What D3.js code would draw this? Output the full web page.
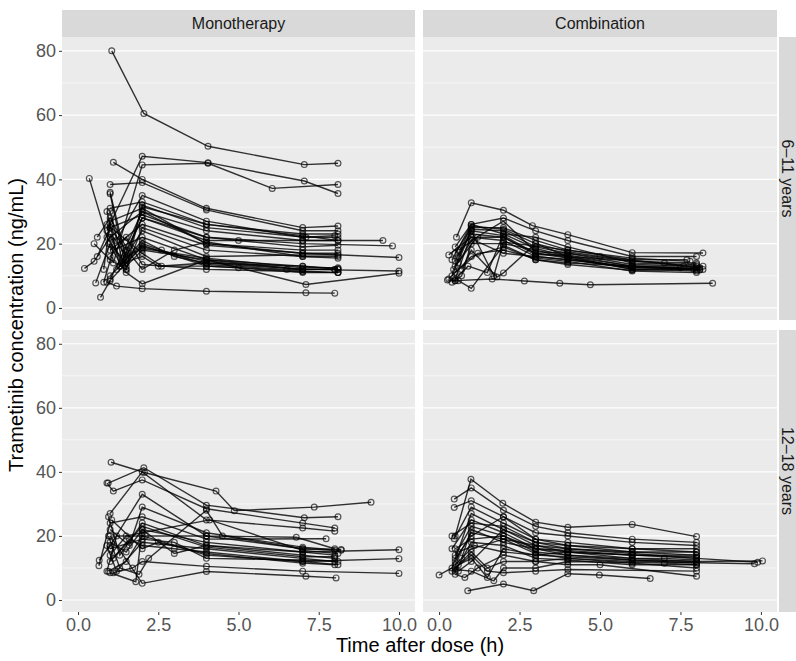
<!DOCTYPE html>
<html>
<head>
<meta charset="utf-8">
<script src="https://cdn.jsdelivr.net/npm/d3@7"></script>
<style>
	body { margin: 0; background: #fff; font-family: "Liberation Sans", Arial, sans-serif; }
	svg { display: block; }
</style>
</head>
<body>
<div id="chart"></div>
<script>
// facet labels and ticks
var colLabels = ["Monotherapy", "Combination"];
var rowLabels = ["6\u201311 years", "12\u201318 years"];
var yTicks = [0, 20, 40, 60, 80];
var yMinor = [10, 30, 50, 70];
var xTicks = [0, 2.5, 5, 7.5, 10];

// each subject is a list of [time (h), concentration (ng/mL)]
var monoChild = [
	[[1.05,80],[2.05,60.5],[4.05,50.3],[7.05,44.6],[8.1,45]],
	[[0.9,24],[2.0,47.2],[4.05,45.2],[7.05,39.5],[8.1,35.6]],
	[[1.1,14],[2.0,44.5],[4.05,45],[6.05,37.2],[8.1,38.4]],
	[[0.35,40.3],[0.9,22],[1.5,13],[2.0,18],[4.0,15],[7.0,12],[8.0,12]],
	[[1.1,45.3],[2.0,40],[4.0,31],[7.0,25],[8.1,25.5]],
	[[1.0,38.4],[2.0,39],[4.0,30.5],[7.0,24],[8.1,24]],
	[[1.0,36],[1.5,15],[2.0,31.5],[4.0,26],[7.0,23],[8.1,23]],
	[[1.0,35.5],[1.5,12],[2.0,32],[4.0,25],[7.1,22],[8.1,22]],
	[[0.2,12.3],[0.5,14.5],[1.0,22],[2.0,30],[4.0,24],[7.0,21],[9.5,21]],
	[[0.6,16],[1.0,25],[2.0,29],[4.0,22],[7.0,20],[9.8,19.3]],
	[[0.8,12],[1.0,27],[2.0,31],[4.0,20],[7.0,17],[10.0,15.7]],
	[[0.55,7.8],[1.0,20],[1.5,14],[2.0,19],[4.0,14.5],[7.0,12],[10.0,11.5]],
	[[0.8,8],[1.1,18],[2.0,22],[4.0,15],[7.1,7.3],[10.0,10.8]],
	[[0.7,3.3],[1.0,8.5],[2.0,19.5],[4.0,13],[7.0,11.5],[8.1,11]],
	[[0.9,8],[1.2,6.8],[2.0,6],[4.0,5.2],[7.1,4.7],[8.0,4.6]],
	[[0.95,20],[1.5,11],[2.0,7.5],[4.0,15],[7.0,13],[8.1,12.3]],
	[[1.0,30],[1.4,14],[2.0,16],[2.5,13],[4.0,14],[7.0,12],[8.0,12]],
	[[1.0,25],[1.5,18],[2.0,28],[4.0,22],[5.0,21],[7.0,19],[8.1,19.5]],
	[[1.0,18],[2.0,26],[4.0,19.5],[7.0,17],[8.1,17]],
	[[0.5,20],[1.0,15],[1.5,12],[2.0,25],[4.0,18],[7.0,16],[8.1,16]],
	[[1.0,10],[1.3,13],[2.0,21],[3.0,16],[4.0,14],[7.0,13],[8.1,12]],
	[[1.1,22],[1.5,16],[2.0,18.5],[4.0,15.5],[7.0,12.5],[8.1,12.5]],
	[[1.0,31],[2.0,33],[4.0,26],[7.0,22.5],[8.1,21]],
	[[0.9,26],[2.0,17],[2.6,13],[4.0,13],[5.0,12.5],[7.0,11],[8.1,11]],
	[[1.0,9],[1.4,17],[2.0,30],[4.0,20],[7.0,18],[8.1,18]],
	[[1.2,21],[2.0,35],[4.0,27],[7.0,22],[8.0,22.5]],
	[[0.6,22],[1.0,28],[1.6,17],[2.0,12],[3.0,18],[4.0,20.5],[7.0,16],[8.1,15.5]],
	[[1.0,16],[1.5,22],[2.0,13.5],[4.0,12],[7.0,11.3],[8.1,11]],
	[[0.9,30],[1.3,13],[2.0,28],[4.0,21],[7.0,21],[8.1,21]],
	[[1.0,23],[1.35,14],[2.0,24],[4.0,16],[7.0,16.5],[8.1,16.5]],
	[[1.2,12],[2.0,20],[2.6,18],[4.0,13.5],[6.5,12],[8.1,12]]
];

var comboChild = [
	[[0.54,22],[1.0,32.7],[2.0,30.4],[2.9,25.6],[4.0,22.8],[6.0,17.2],[8.2,17.1]],
	[[0.26,8.7],[0.5,8.5],[1.65,9],[2.65,8.4],[3.75,7.7],[4.7,7.2],[8.5,7.7]],
	[[0.4,15],[1.0,26],[2.0,28],[3.0,24],[4.0,21],[6.0,16],[8.0,16]],
	[[0.5,17],[1.0,25],[2.0,25],[3.0,21],[4.0,18],[6.0,15],[7.7,15]],
	[[0.45,12],[1.0,24.5],[2.0,24],[3.0,19],[4.0,17],[6.0,14.5],[8.0,14]],
	[[0.5,9],[1.0,23],[2.0,22],[3.0,17],[4.0,16],[6.0,13],[8.0,13]],
	[[0.3,16.5],[1.0,22],[2.0,21],[3.0,16],[4.0,15],[6.0,12.5],[8.1,12.5]],
	[[0.5,8.5],[0.7,10],[1.0,20],[2.0,20],[3.0,18],[4.0,15.5],[6.0,12],[8.0,11.5]],
	[[0.6,8.5],[1.0,6.1],[2.0,19.5],[3.0,15],[4.0,14],[6.0,13],[7.5,12.5]],
	[[0.7,12],[1.0,18],[1.8,9.6],[2.0,10.9],[3.0,20],[4.0,16],[6.0,12],[8.1,12]],
	[[0.5,19],[1.0,26],[2.0,23],[3.0,22],[4.0,19],[6.0,14],[8.0,13.5]],
	[[0.6,14],[1.0,21],[2.0,27],[3.0,17.5],[4.0,17],[6.0,13.5],[8.2,13]],
	[[0.5,11],[1.2,17],[2.0,18],[3.0,15.5],[4.0,14.5],[6.0,11.5],[8.0,11]],
	[[0.4,8],[0.9,13],[1.5,11],[2.0,23],[3.0,18.5],[4.0,16],[7.0,14],[8.0,12.5]],
	[[0.6,16],[1.0,24],[1.7,10],[2.0,20.5],[4.0,18],[6.0,15.5],[7.8,14.5]],
	[[0.5,13],[1.1,21],[2.0,17],[3.0,16],[4.0,15],[6.0,12.8],[8.1,11.8]],
	[[0.4,10],[1.0,24],[2.0,22.5],[3.0,17],[4.0,15.5],[6.0,12.5],[7.9,12.2]],
	[[0.5,14.5],[1.0,25.5],[2.0,24.5],[3.0,20],[4.0,17.5],[5.0,16],[7.6,13]],
	[[0.6,18],[1.2,22],[2.0,22],[3.0,16.5],[4.0,16.5],[6.0,13],[8.2,12]],
	[[0.3,9],[1.0,16],[2.0,19],[3.0,15],[4.0,13.5],[6.0,11.7],[8.0,12]]
];

var monoTeen = [
	[[1.03,43],[2.07,39.8],[4.3,34],[4.87,27.9],[7.36,29],[9.13,30.5]],
	[[0.94,36.5],[2.05,41.3],[4.0,29.6],[7.05,25.7],[8.1,26]],
	[[0.9,36.5],[1.1,34],[2.0,37.5],[4.0,28.5],[7.0,24],[8.0,22.5]],
	[[1.0,27],[2.0,40],[4.0,25],[7.0,22.5],[8.0,21.5]],
	[[0.66,12.4],[1.0,17],[2.0,33],[4.0,20],[6.8,19.6],[8.0,16]],
	[[0.65,10.7],[1.0,24],[2.0,26],[4.0,19],[7.73,19.1]],
	[[1.0,8.5],[1.8,5.7],[2.0,22],[4.0,18],[7.0,15],[10.0,15.7]],
	[[1.0,20],[2.0,5.2],[4.0,8.9],[7.1,7.4],[8.04,6.9]],
	[[0.95,9],[1.5,12],[2.0,20],[4.0,14],[7.0,12],[10.0,12.9]],
	[[1.1,8.5],[1.7,10],[2.0,12],[4.0,10.5],[7.0,9],[10.0,8.3]],
	[[1.0,18],[1.5,15],[2.0,22],[3.0,14.5],[4.0,17],[7.0,14],[8.0,13]],
	[[1.0,22],[1.6,17],[2.0,29],[4.0,21],[7.0,16.5],[8.2,15.5]],
	[[0.9,17],[1.2,9],[2.0,18],[4.0,16],[7.0,13],[8.0,12]],
	[[1.05,25],[2.0,16],[2.5,18],[4.0,14.5],[7.0,11.5],[8.0,11]],
	[[1.0,14],[1.5,20],[2.0,21],[4.1,25],[7.0,15.5],[8.1,14.5]],
	[[0.95,20],[1.3,10],[1.9,8],[2.2,13],[4.0,28],[4.5,20],[7.0,16],[8.0,15.5]],
	[[1.0,16],[2.0,19],[3.0,18],[4.0,13],[7.0,12.5],[8.1,12]],
	[[1.1,13],[2.0,23],[4.0,16.5],[7.0,13.5],[8.0,13.5]],
	[[0.95,26],[1.3,14],[2.0,24],[4.0,17],[7.0,15],[8.0,14]],
	[[1.0,12],[1.6,19],[2.0,17],[3.0,16],[4.0,15],[7.0,12],[8.1,11]],
	[[0.9,9],[1.2,20],[2.1,20],[4.0,20],[7.0,16],[8.2,15.8]]
];

var comboTeen = [
	[[0.5,20],[0.99,37.7],[1.98,30.2],[3.0,24.3],[4.0,22.7],[6.0,23.6],[8.0,19.8]],
	[[0.47,31.5],[1.0,35],[2.0,28],[3.0,23],[4.0,21],[6.0,19],[8.0,18]],
	[[0.47,28.9],[1.0,31],[2.0,26],[3.0,21],[4.0,20],[6.0,18],[8.0,17]],
	[[0.47,19.1],[1.0,29],[2.0,24],[3.0,19],[4.0,18],[6.0,16],[8.0,16]],
	[[0.0,7.8],[0.4,10],[1.0,27],[2.0,22],[3.0,17],[4.0,15],[6.0,14],[8.0,14]],
	[[0.4,16],[1.0,25],[2.0,21],[3.0,16],[4.0,15],[6.0,13],[8.0,12]],
	[[0.5,14],[1.0,23],[2.0,20],[3.0,15],[4.0,14],[6.0,12.5],[8.0,12],[10.05,12.2]],
	[[0.5,12],[1.0,21],[2.0,19],[3.0,14.5],[4.0,13],[6.0,12],[9.8,11.3]],
	[[0.89,2.9],[2.0,5],[2.94,2.9],[4.0,8.2],[4.98,7.8],[6.56,6.7]],
	[[0.5,9],[1.0,18],[2.0,17],[3.0,13],[4.0,12.5],[6.0,11],[8.0,11]],
	[[0.5,11],[1.0,16],[2.0,19],[3.0,17],[4.0,16],[6.0,14.5],[8.0,13]],
	[[0.5,8],[0.8,7],[1.2,10],[2.0,14],[3.0,12],[4.0,13],[6.0,11.5],[8.0,10]],
	[[0.5,10],[1.0,14],[1.5,9],[2.0,8.5],[3.0,9],[4.0,9.5],[8.0,9]],
	[[0.6,9],[1.0,12],[2.0,22],[3.0,18],[4.0,16],[6.0,15],[8.0,15]],
	[[0.5,13],[1.0,20],[2.0,26],[3.0,19],[4.0,17],[6.0,15],[8.0,14]],
	[[0.4,9],[1.0,15],[1.5,10],[2.0,12],[3.0,12],[4.0,11],[5.0,11],[8.0,7.4]],
	[[0.7,13],[1.0,22],[2.0,18],[3.0,16],[4.0,14],[6.0,13],[7.0,13],[8.0,12.5]],
	[[0.6,15],[1.1,17],[2.0,15],[3.0,14],[4.0,15],[6.0,14],[8.0,13.5]],
	[[0.5,16],[1.0,19],[2.0,20],[3.0,16],[4.0,15.5],[6.0,14],[8.0,13],[9.9,11.8]],
	[[0.6,11],[1.0,13],[1.5,7],[2.0,16],[3.0,14],[4.0,13.5],[6.0,12.5],[8.0,11.5]],
	[[0.4,20],[1.0,24],[2.0,23],[3.0,18],[4.0,17],[6.0,16],[8.0,15]],
	[[0.5,9.5],[1.0,9],[1.7,6],[2.0,10],[3.0,10],[4.0,12],[7.0,11.5],[8.0,11]]
];

var panels = [
	{row:0, col:0, subjects:monoChild},
	{row:0, col:1, subjects:comboChild},
	{row:1, col:0, subjects:monoTeen},
	{row:1, col:1, subjects:comboTeen}
];

var width = 796, height = 661;
var colX = [[62,415],[423,777]];
var rowY = [[37,320],[330,612]];

var svg = d3.select("#chart").append("svg")
	.attr("width", width)
	.attr("height", height);

var xScales = colX.map(function(r){ return d3.scaleLinear().domain([-0.5,10.5]).range(r); });
var yScales = rowY.map(function(r){ return d3.scaleLinear().domain([-3.75,84.3]).range([r[1],r[0]]); });

// strips on top
colLabels.forEach(function(lab,c){
	svg.append("rect")
		.attr("x", colX[c][0]).attr("y", 10)
		.attr("width", colX[c][1]-colX[c][0]).attr("height", 27)
		.attr("fill", "#d9d9d9");
	svg.append("text")
		.attr("x", (colX[c][0]+colX[c][1])/2).attr("y", 29)
		.attr("text-anchor","middle")
		.attr("font-size", 16)
		.attr("fill", "#1a1a1a")
		.text(lab);
});

// strips on the right
rowLabels.forEach(function(lab,r){
	svg.append("rect")
		.attr("x", 779).attr("y", rowY[r][0])
		.attr("width", 27).attr("height", rowY[r][1]-rowY[r][0])
		.attr("fill", "#d9d9d9");
	var cy = (rowY[r][0]+rowY[r][1])/2;
	svg.append("text")
		.attr("transform", "translate(782," + cy + ") rotate(90)")
		.attr("text-anchor","middle")
		.attr("font-size", 16)
		.attr("fill", "#1a1a1a")
		.text(lab);
});

var line = d3.line();

panels.forEach(function(p){
	var x = xScales[p.col], y = yScales[p.row];
	var g = svg.append("g");
	g.append("rect")
		.attr("x", colX[p.col][0]).attr("y", rowY[p.row][0])
		.attr("width", colX[p.col][1]-colX[p.col][0])
		.attr("height", rowY[p.row][1]-rowY[p.row][0])
		.attr("fill", "#ebebeb");
	g.selectAll("line.minor").data(yMinor).enter().append("line")
		.attr("x1", colX[p.col][0]).attr("x2", colX[p.col][1])
		.attr("y1", function(d){ return y(d); }).attr("y2", function(d){ return y(d); })
		.attr("stroke", "#fff").attr("stroke-width", 0.6);
	g.selectAll("line.major").data(yTicks).enter().append("line")
		.attr("x1", colX[p.col][0]).attr("x2", colX[p.col][1])
		.attr("y1", function(d){ return y(d); }).attr("y2", function(d){ return y(d); })
		.attr("stroke", "#fff").attr("stroke-width", 1.2);

	g.selectAll("path.subj").data(p.subjects).enter().append("path")
		.attr("d", function(s){
			var pts = s.slice().sort(function(a,b){ return a[0]-b[0]; });
			return line(pts.map(function(d){ return [x(d[0]), y(d[1])]; }));
		})
		.attr("fill", "none")
		.attr("stroke", "#000")
		.attr("stroke-opacity", 0.8)
		.attr("stroke-width", 1.4);

	var pts = [];
	p.subjects.forEach(function(s){ s.forEach(function(d){ pts.push(d); }); });
	g.selectAll("circle").data(pts).enter().append("circle")
		.attr("cx", function(d){ return x(d[0]); })
		.attr("cy", function(d){ return y(d[1]); })
		.attr("r", 2.9)
		.attr("fill", "none")
		.attr("stroke", "#000")
		.attr("stroke-opacity", 0.65)
		.attr("stroke-width", 1.2);

	// y axis on left column
	if (p.col == 0) {
		var ya = svg.append("g")
			.attr("transform", "translate(" + colX[0][0] + ",0)")
			.call(d3.axisLeft(y).tickValues(yTicks).tickSize(3).tickPadding(3).tickFormat(d3.format("d")));
		ya.select(".domain").remove();
		ya.selectAll("line").attr("stroke", "#333");
		ya.selectAll("text").attr("font-size", 18).attr("fill", "#555")
			.attr("font-family", "Liberation Sans, Arial, sans-serif");
	}
	// x axis on bottom row
	if (p.row == 1) {
		var xa = svg.append("g")
			.attr("transform", "translate(0," + rowY[1][1] + ")")
			.call(d3.axisBottom(x).tickValues(xTicks).tickSize(3).tickPadding(3).tickFormat(d3.format(".1f")));
		xa.select(".domain").remove();
		xa.selectAll("line").attr("stroke", "#333");
		xa.selectAll("text").attr("font-size", 18).attr("fill", "#555")
			.attr("font-family", "Liberation Sans, Arial, sans-serif");
	}
});

svg.append("text")
	.attr("x", 420).attr("y", 652)
	.attr("text-anchor","middle")
	.attr("font-size", 20)
	.attr("fill", "#000")
	.text("Time after dose (h)");

svg.append("text")
	.attr("transform", "translate(23,325) rotate(-90)")
	.attr("text-anchor","middle")
	.attr("font-size", 20)
	.attr("fill", "#000")
	.text("Trametinib concentration (ng/mL)");
</script>
</body>
</html>
